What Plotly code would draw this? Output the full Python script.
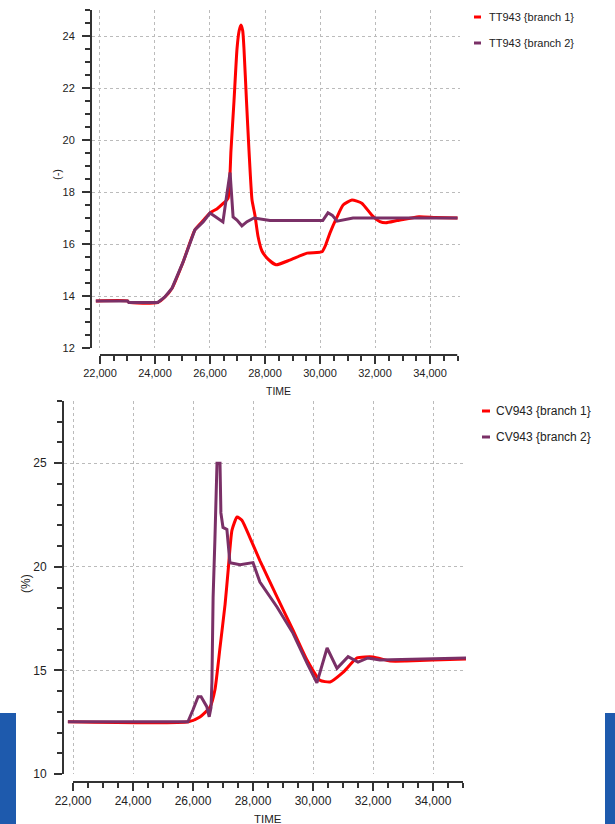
import plotly.graph_objects as go

W, H = 615, 824

# ---- Top chart: TT943 ----
tt_b1_time = [21850, 23000, 23050, 24100, 24360, 24620, 25020, 25450, 25750, 26000, 26250, 26470,
              26655, 26763, 26873, 26982, 27060, 27127, 27190, 27236, 27327, 27418, 27527, 27636,
              27745, 27890, 28110, 28400, 28900, 29530, 30070, 30200, 30360, 30620, 30840, 31160,
              31520, 31890, 32180, 32400, 32800, 33600, 34200, 35000]
tt_b1_val = [13.81, 13.81, 13.75, 13.75, 13.96, 14.3, 15.3, 16.54, 16.9, 17.2, 17.35, 17.55,
             17.75, 19.6, 21.5, 23.5, 24.2, 24.42, 24.2, 23.5, 21.5, 19.6, 17.7, 17.1,
             16.3, 15.73, 15.42, 15.2, 15.38, 15.65, 15.7, 15.95, 16.42, 17.04, 17.5, 17.69,
             17.57, 17.1, 16.86, 16.82, 16.9, 17.05, 17.02, 17.0]
tt_b2_time = [21850, 23000, 23050, 24100, 24360, 24620, 25020, 25450, 25750, 26000, 26200, 26470,
              26620, 26730, 26840, 26980, 27160, 27345, 27600, 28180, 30100, 30290, 30450, 30620,
              31200, 35000]
tt_b2_val = [13.81, 13.81, 13.75, 13.75, 13.96, 14.3, 15.3, 16.54, 16.85, 17.19, 17.05, 16.85,
             17.96, 18.75, 17.04, 16.92, 16.7, 16.86, 17.0, 16.9, 16.9, 17.2, 17.1, 16.88,
             17.0, 17.0]

# ---- Bottom chart: CV943 ----
cv_b1_time = [21830, 25850, 26230, 26570, 26730, 26900, 27070, 27170, 27300, 27470, 27630, 27900,
              28230, 28800, 29330, 29800, 30230, 30570, 31000, 31470, 32000, 32570, 33100, 34000, 35150]
cv_b1_val = [12.52, 12.52, 12.75, 13.23, 14.05, 16.1, 18.2, 19.8, 21.77, 22.4, 22.25, 21.4,
             20.3, 18.55, 16.95, 15.5, 14.53, 14.44, 14.9, 15.6, 15.65, 15.45, 15.45, 15.5, 15.55]
cv_b2_time = [21830, 25830, 26000, 26170, 26270, 26460, 26540, 26600, 26630, 26670, 26730, 26800,
              26900, 26930, 27000, 27130, 27230, 27570, 28000, 28230, 28800, 29330, 29800, 30130,
              30470, 30800, 31170, 31500, 31830, 32230, 35150]
cv_b2_val = [12.52, 12.52, 13.1, 13.73, 13.73, 13.25, 12.76, 13.2, 14.4, 18.5, 21.3, 25.0,
             25.0, 22.6, 21.9, 21.8, 20.2, 20.1, 20.2, 19.26, 18.06, 16.8, 15.35, 14.4,
             16.08, 15.1, 15.66, 15.4, 15.6, 15.5, 15.6]

top_names = ["TT943 {branch 1}", "TT943 {branch 2}"]
bot_names = ["CV943 {branch 1}", "CV943 {branch 2}"]
top_ticks_x = [22000, 24000, 26000, 28000, 30000, 32000, 34000]
top_ticks_y = [12, 14, 16, 18, 20, 22, 24]
bot_ticks_y = [10, 15, 20, 25]

TOP_XRANGE = [21710, 35090]
BOT_XRANGE = [21700, 35100]

RED = "#ff0000"
PURPLE = "#7a3067"
FONT = "Liberation Sans, Arial, sans-serif"
TXT = "#222222"
AX = "#333333"

def px(x):
    return x / W

def py(y):
    return 1 - y / H

fig = go.Figure()
fig.add_trace(go.Scatter(x=tt_b1_time, y=tt_b1_val, mode="lines",
                         line=dict(color=RED, width=3, shape="spline", smoothing=0.5),
                         name=top_names[0], xaxis="x", yaxis="y", showlegend=False))
fig.add_trace(go.Scatter(x=tt_b2_time, y=tt_b2_val, mode="lines", line=dict(color=PURPLE, width=3),
                         name=top_names[1], xaxis="x", yaxis="y", showlegend=False))
fig.add_trace(go.Scatter(x=cv_b1_time, y=cv_b1_val, mode="lines",
                         line=dict(color=RED, width=3, shape="spline", smoothing=0.5),
                         name=bot_names[0], xaxis="x2", yaxis="y2", showlegend=False))
fig.add_trace(go.Scatter(x=cv_b2_time, y=cv_b2_val, mode="lines", line=dict(color=PURPLE, width=3),
                         name=bot_names[1], xaxis="x2", yaxis="y2", showlegend=False))

def xax(domain, pos, rng, fs):
    return dict(domain=domain, anchor="free", position=pos, range=rng, automargin=False,
                tickvals=top_ticks_x, tickformat=",d", ticks="outside", ticklen=8, tickwidth=1.5,
                tickcolor=AX, showline=False,
                showgrid=True, gridcolor="#bbbbbb", griddash="dot", gridwidth=1,
                zeroline=False, tickfont=dict(family=FONT, size=fs, color=TXT),
                minor=dict(dtick=500, tick0=22000, ticks="outside", ticklen=5, tickwidth=1.5,
                           tickcolor=AX, showgrid=False))

def yax(domain, anchor, rng, vals, mdt, fs):
    return dict(domain=domain, anchor=anchor, range=rng, tickvals=vals, automargin=False,
                ticks="outside", ticklen=8, tickwidth=1.5, tickcolor=AX,
                showline=True, linecolor=AX, linewidth=2, ticklabelstandoff=5,
                showgrid=True, gridcolor="#bbbbbb", griddash="dot", gridwidth=1,
                zeroline=False, tickfont=dict(family=FONT, size=fs, color=TXT),
                minor=dict(dtick=mdt, ticks="outside", ticklen=5, tickwidth=1.5, tickcolor=AX, showgrid=False))

fig.update_layout(
    width=W, height=H, autosize=False,
    margin=dict(l=0, r=0, t=0, b=0),
    paper_bgcolor="white", plot_bgcolor="white",
    xaxis=xax([px(92), px(460)], py(355), TOP_XRANGE, 11),
    yaxis=yax([py(348), py(10)], "x", [12, 25], top_ticks_y, 0.5, 11),
    xaxis2=xax([px(64), px(466)], py(782), BOT_XRANGE, 12),
    yaxis2=yax([py(774), py(401)], "x2", [10, 28], bot_ticks_y, 1, 12),
)

shapes = [
    dict(type="rect", xref="paper", yref="paper", x0=0, x1=px(16), y0=0, y1=py(713),
         fillcolor="#1e5aad", line=dict(width=0)),
    dict(type="rect", xref="paper", yref="paper", x0=px(605), x1=1, y0=0, y1=py(713),
         fillcolor="#1e5aad", line=dict(width=0)),
    # x axis lines starting at the first tick
    dict(type="line", xref="x", yref="paper", x0=top_ticks_x[0], x1=TOP_XRANGE[1] - 100,
         y0=py(355), y1=py(355), line=dict(color=AX, width=2)),
    dict(type="line", xref="x2", yref="paper", x0=top_ticks_x[0], x1=BOT_XRANGE[1] - 100,
         y0=py(782), y1=py(782), line=dict(color=AX, width=2)),
]
annotations = []

def legend_entry(x0, x1, xt, y, color, text, fs):
    shapes.append(dict(type="line", xref="paper", yref="paper", x0=px(x0), x1=px(x1), y0=py(y), y1=py(y),
                       line=dict(color=color, width=3)))
    annotations.append(dict(xref="paper", yref="paper", x=px(xt), y=py(y), text=text, showarrow=False,
                            xanchor="left", yanchor="middle", font=dict(family=FONT, size=fs, color=TXT)))

legend_entry(474, 481, 487, 17, RED, top_names[0], 11)
legend_entry(474, 481, 487, 43, PURPLE, top_names[1], 11)
legend_entry(482, 490, 494, 411, RED, bot_names[0], 12)
legend_entry(482, 490, 494, 437, PURPLE, bot_names[1], 12)

def label(x, y, text, fs, angle=0):
    annotations.append(dict(xref="paper", yref="paper", x=px(x), y=py(y), text=text, showarrow=False,
                            xanchor="center", yanchor="middle", textangle=angle,
                            font=dict(family=FONT, size=fs, color=TXT)))

label(278, 391, "TIME", 10.5)
label(57, 175, "(-)", 11, -90)
label(268, 819, "TIME", 11.5)
label(26, 584, "(%)", 12, -90)

fig.update_layout(shapes=shapes, annotations=annotations)
fig.write_html("out.html")
